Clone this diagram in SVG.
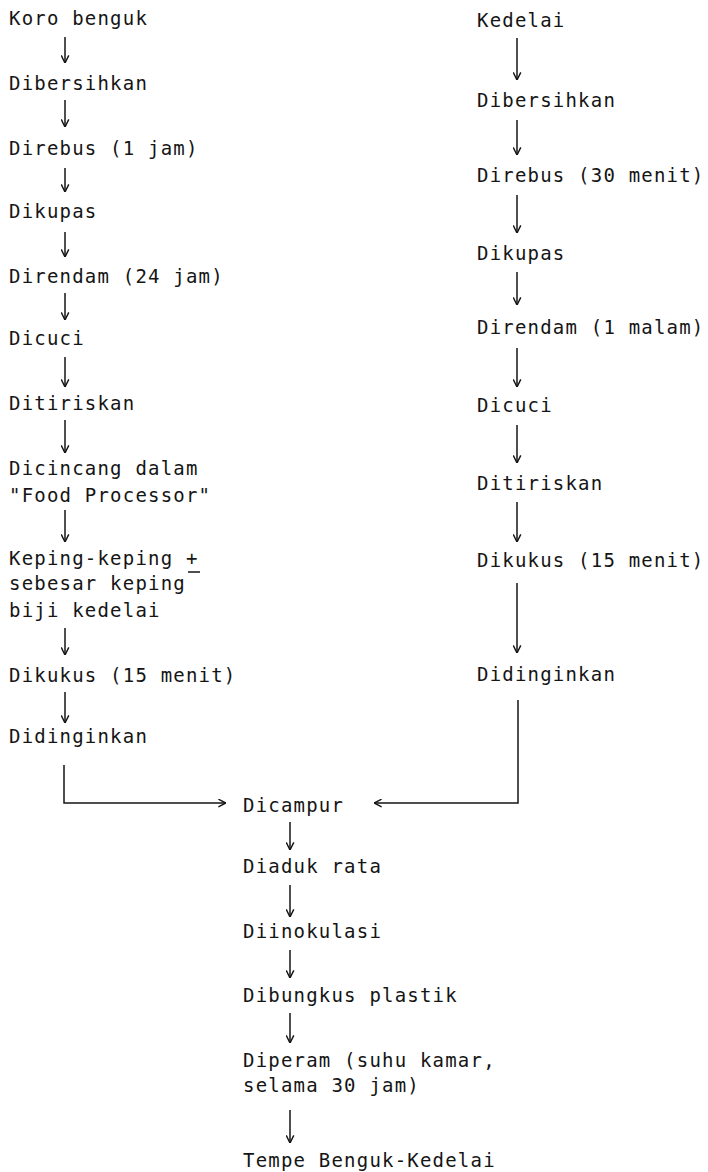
<svg xmlns="http://www.w3.org/2000/svg" width="708" height="1172" viewBox="0 0 708 1172">
<style>
text{font-family:"DejaVu Sans Mono","Liberation Mono",monospace;font-size:19px;letter-spacing:1.2px;fill:#151515}
.c{fill:none;stroke:#151515;stroke-width:1.5}
</style>
<defs>
<marker id="ah" viewBox="0 0 10 10" refX="9.5" refY="5" markerWidth="9" markerHeight="9" markerUnits="userSpaceOnUse" orient="auto">
<path d="M1,0.8 L9.5,5 L1,9.2" fill="none" stroke="#151515" stroke-width="1.6"/>
</marker>
</defs>
<rect width="708" height="1172" fill="#fff"/>
<g id="connectors" class="c">
<line x1="65" y1="37" x2="65" y2="63" marker-end="url(#ah)"/>
<line x1="65" y1="100" x2="65" y2="127" marker-end="url(#ah)"/>
<line x1="65" y1="168" x2="65" y2="192" marker-end="url(#ah)"/>
<line x1="65" y1="232" x2="65" y2="257" marker-end="url(#ah)"/>
<line x1="65" y1="293" x2="65" y2="320" marker-end="url(#ah)"/>
<line x1="65" y1="357" x2="65" y2="387" marker-end="url(#ah)"/>
<line x1="65" y1="420" x2="65" y2="453" marker-end="url(#ah)"/>
<line x1="65" y1="510" x2="65" y2="542" marker-end="url(#ah)"/>
<line x1="65" y1="628" x2="65" y2="655" marker-end="url(#ah)"/>
<line x1="65" y1="692" x2="65" y2="723" marker-end="url(#ah)"/>
<polyline points="64,765 64,803 226,803" marker-end="url(#ah)"/>
<line x1="517" y1="38" x2="517" y2="80" marker-end="url(#ah)"/>
<line x1="517" y1="120" x2="517" y2="155" marker-end="url(#ah)"/>
<line x1="517" y1="195" x2="517" y2="233" marker-end="url(#ah)"/>
<line x1="517" y1="272" x2="517" y2="305" marker-end="url(#ah)"/>
<line x1="517" y1="348" x2="517" y2="387" marker-end="url(#ah)"/>
<line x1="517" y1="425" x2="517" y2="463" marker-end="url(#ah)"/>
<line x1="517" y1="502" x2="517" y2="542" marker-end="url(#ah)"/>
<line x1="517" y1="583" x2="517" y2="653" marker-end="url(#ah)"/>
<polyline points="518,700 518,803 374,803" marker-end="url(#ah)"/>
<line x1="290" y1="822" x2="290" y2="850" marker-end="url(#ah)"/>
<line x1="290" y1="885" x2="290" y2="917" marker-end="url(#ah)"/>
<line x1="290" y1="950" x2="290" y2="978" marker-end="url(#ah)"/>
<line x1="290" y1="1013" x2="290" y2="1043" marker-end="url(#ah)"/>
<line x1="290" y1="1110" x2="290" y2="1143" marker-end="url(#ah)"/>
</g>
<g id="L1"><text x="9" y="25">Koro benguk</text></g>
<g id="L2"><text x="9" y="90">Dibersihkan</text></g>
<g id="L3"><text x="9" y="155">Direbus (1 jam)</text></g>
<g id="L4"><text x="9" y="218">Dikupas</text></g>
<g id="L5"><text x="9" y="283">Direndam (24 jam)</text></g>
<g id="L6"><text x="9" y="345">Dicuci</text></g>
<g id="L7"><text x="9" y="410">Ditiriskan</text></g>
<g id="L8"><text x="9" y="475">Dicincang dalam</text><text x="9" y="502">"Food Processor"</text></g>
<g id="L9"><text x="9" y="565">Keping-keping +</text><line x1="188" y1="572" x2="200" y2="572" stroke="#151515" stroke-width="1.5"/><text x="9" y="590">sebesar keping</text><text x="9" y="617">biji kedelai</text></g>
<g id="L10"><text x="9" y="682">Dikukus (15 menit)</text></g>
<g id="L11"><text x="9" y="743">Didinginkan</text></g>
<g id="R1"><text x="477" y="27">Kedelai</text></g>
<g id="R2"><text x="477" y="107">Dibersihkan</text></g>
<g id="R3"><text x="477" y="182">Direbus (30 menit)</text></g>
<g id="R4"><text x="477" y="260">Dikupas</text></g>
<g id="R5"><text x="477" y="334">Direndam (1 malam)</text></g>
<g id="R6"><text x="477" y="412">Dicuci</text></g>
<g id="R7"><text x="477" y="490">Ditiriskan</text></g>
<g id="R8"><text x="477" y="567">Dikukus (15 menit)</text></g>
<g id="R9"><text x="477" y="681">Didinginkan</text></g>
<g id="C1"><text x="243" y="812">Dicampur</text></g>
<g id="C2"><text x="243" y="873">Diaduk rata</text></g>
<g id="C3"><text x="243" y="938">Diinokulasi</text></g>
<g id="C4"><text x="243" y="1002">Dibungkus plastik</text></g>
<g id="C5"><text x="243" y="1067">Diperam (suhu kamar,</text><text x="243" y="1092">selama 30 jam)</text></g>
<g id="C6"><text x="243" y="1167">Tempe Benguk-Kedelai</text></g>
</svg>
